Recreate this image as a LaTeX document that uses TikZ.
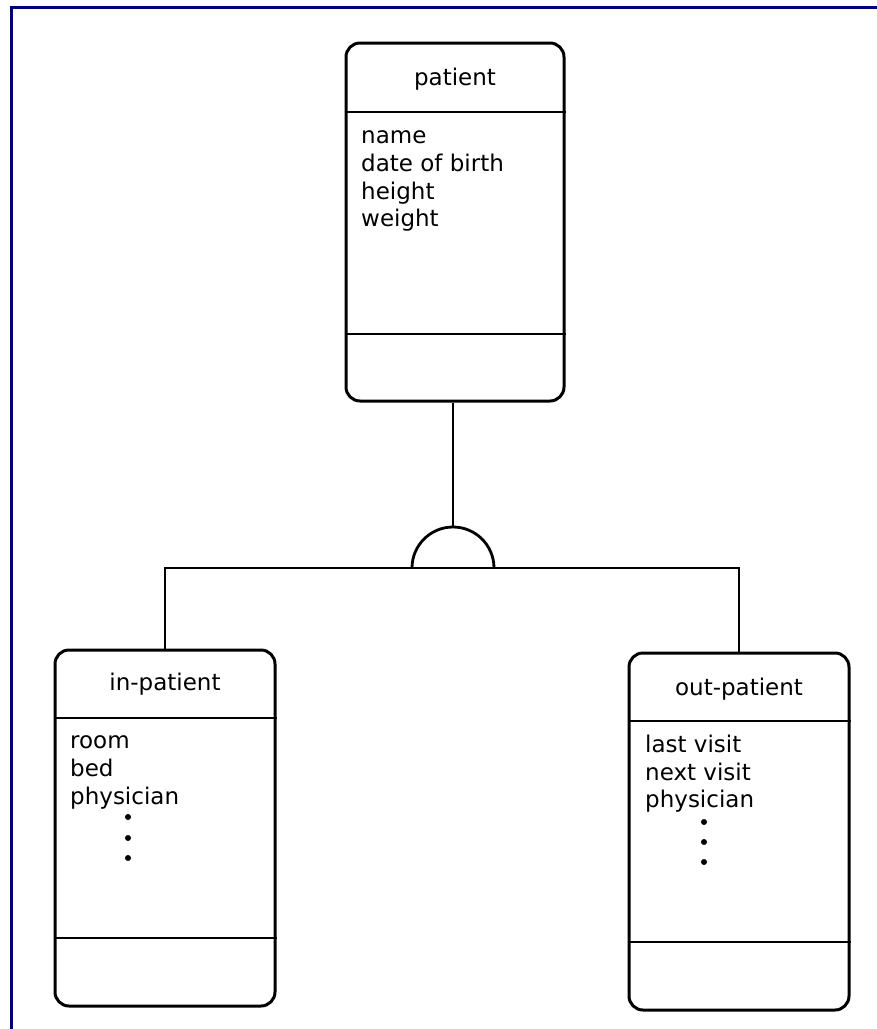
\documentclass[tikz,border=0pt]{standalone}
\usepackage{fontspec}
\setmainfont{DejaVu Sans}
\begin{document}
\begin{tikzpicture}[x=1pt,y=-1pt,
  frameline/.style={draw={rgb,255:red,0;green,0;blue,120},line width=3pt},
  classbox/.style={draw,line width=3pt,rounded corners=14pt,inner sep=0pt,
    minimum width=220pt,minimum height=357pt},
  divider/.style={line width=2.8pt},
  link/.style={line width=2.8pt},
  title/.style={anchor=base,inner sep=0pt,font=\fontsize{23}{28}\selectfont},
  attr/.style={anchor=base west,inner sep=0pt,font=\fontsize{23}{28}\selectfont},
  dot/.style={circle,fill,inner sep=0pt,minimum size=6pt}]
\useasboundingbox (0,0) rectangle (877,1029);
% page frame (top and left edges)
\draw[frameline] (11.5,1029) -- (11.5,7.5) -- (877,7.5);

% class boxes
\node[classbox,minimum width=218pt,minimum height=358pt] (patient) at (455,222) {};
\node[classbox,minimum height=356pt] (inpatient) at (165,828) {};
\node[classbox] (outpatient) at (739,831.5) {};

% compartment dividers
\draw[divider] (patient.west |- 0,112) -- (patient.east |- 0,112);
\draw[divider] (patient.west |- 0,334) -- (patient.east |- 0,334);
\draw[divider] (inpatient.west |- 0,718) -- (inpatient.east |- 0,718);
\draw[divider] (inpatient.west |- 0,938) -- (inpatient.east |- 0,938);
\draw[divider] (outpatient.west |- 0,721) -- (outpatient.east |- 0,721);
\draw[divider] (outpatient.west |- 0,942) -- (outpatient.east |- 0,942);

% class names
\node[title] (ptitle) at (455,85) {patient};
\node[title] (ititle) at (165,690) {in-patient};
\node[title] (otitle) at (739,695) {out-patient};

% attributes
\node[attr] (pa1) at (361,143) {name};
\node[attr] (pa2) at (361,171) {date of birth};
\node[attr] (pa3) at (361,199) {height};
\node[attr] (pa4) at (361,226) {weight};

\node[attr] (ia1) at (70,748) {room};
\node[attr] (ia2) at (70,776) {bed};
\node[attr] (ia3) at (70,804) {physician};
\node[dot] (id1) at (128,817) {};
\node[dot] (id2) at (128,838) {};
\node[dot] (id3) at (128,858) {};

\node[attr] (oa1) at (645,752) {last visit};
\node[attr] (oa2) at (645,780) {next visit};
\node[attr] (oa3) at (645,807) {physician};
\node[dot] (od1) at (704,822) {};
\node[dot] (od2) at (704,842) {};
\node[dot] (od3) at (704,862) {};

% generalization: half-circle on the branching bar
\coordinate (bar) at (453,568);
\coordinate (cap) at (453,527);
\draw[link] (bar) ++(-41pt,0pt) arc[start angle=180,end angle=0,radius=41pt];
\draw[link] (patient.south -| cap) -- (cap);
\draw[link] (inpatient.north) |- (bar) -| (outpatient.north);
\end{tikzpicture}
\end{document}
